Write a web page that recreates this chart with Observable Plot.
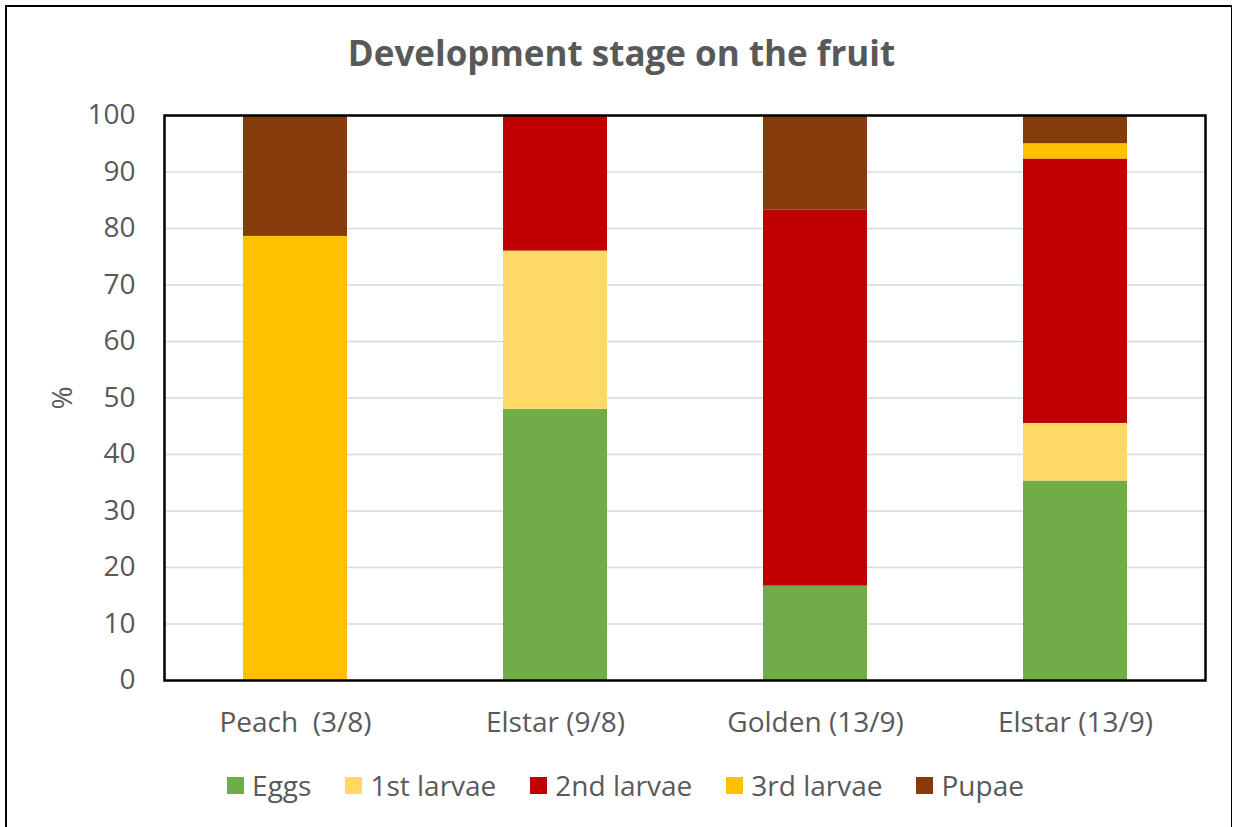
<!DOCTYPE html>
<html>
<head>
<meta charset="utf-8">
<script src="https://cdn.jsdelivr.net/npm/d3@7"></script>
<script src="https://cdn.jsdelivr.net/npm/@observablehq/plot@0.6"></script>
<style>
  html, body { margin: 0; padding: 0; background: #fff; }
  #chart { position: relative; width: 1235px; height: 827px; overflow: hidden; font-family: "Open Sans", Lato, sans-serif; color: #595959; }
  #border { position: absolute; left: 5px; top: 5px; width: 1227px; height: 900px; border-left: 2px solid #000; border-top: 2px solid #000; border-right: 1.5px solid #000; box-sizing: border-box; }
  #title { position: absolute; left: 0; top: 0; width: 1235px; height: 90px; line-height: 105px; text-align: center; font-size: 35px; font-weight: bold; color: #595959; padding-left: 8px; box-sizing: border-box; }
  #plot { position: absolute; left: 0; top: 90px; }
  #legend { position: absolute; left: 0; top: 766px; width: 1235px; height: 38px; display: flex; justify-content: center; align-items: center; gap: 34px; font-size: 28px; color: #595959; padding-left: 16px; box-sizing: border-box; }
  .item { display: flex; align-items: center; gap: 8px; }
  .sw { width: 17px; height: 17px; display: inline-block; }
</style>
</head>
<body>
<div id="chart">
  <div id="border"></div>
  <div id="title">Development stage on the fruit</div>
  <div id="plot"></div>
  <div id="legend"></div>
</div>
<script>
const categories = ["Peach  (3/8)", "Elstar (9/8)", "Golden (13/9)", "Elstar (13/9)"];
const stages = ["Eggs", "1st larvae", "2nd larvae", "3rd larvae", "Pupae"];
const colors = ["#70AD47", "#FFD966", "#C00000", "#FFC000", "#843C0C"];
const eggs = [0, 48, 16.7, 35.3];
const larvae1 = [0, 28, 0, 10.2];
const larvae2 = [0, 24, 66.6, 46.8];
const larvae3 = [78.6, 0, 0, 2.7];
const pupae = [21.4, 0, 16.7, 5.0];
const yTicks = [0, 10, 20, 30, 40, 50, 60, 70, 80, 90, 100];

const seriesValues = [eggs, larvae1, larvae2, larvae3, pupae];
const data = [];
stages.forEach((s, i) => categories.forEach((c, j) => data.push({category: c, stage: s, value: seriesValues[i][j]})));

const chart = Plot.plot({
  width: 1235,
  height: 670,
  marginTop: 25,
  marginBottom: 80,
  marginLeft: 164,
  marginRight: 30,
  style: {fontFamily: "'Open Sans', Lato, sans-serif", fontSize: "28px", color: "#595959", background: "transparent", overflow: "visible"},
  x: {domain: categories, paddingInner: 0.6, paddingOuter: 0.3, label: null},
  y: {domain: [0, 100], ticks: yTicks, label: "%"},
  color: {domain: stages, range: colors},
  marks: [
    Plot.gridY(yTicks, {stroke: "#d9d9d9", strokeOpacity: 1, strokeWidth: 1.5}),
    Plot.barY(data, {x: "category", y: "value", fill: "stage"}),
    Plot.frame({stroke: "#000", strokeWidth: 2.5}),
    Plot.axisY({ticks: yTicks, tickSize: 0, tickPadding: 29, label: "%", labelAnchor: "center", labelArrow: "none", labelOffset: 112, fill: "#595959"}),
    Plot.axisX({tickSize: 0, tickPadding: 32, label: null, fill: "#595959"})
  ]
});
document.getElementById("plot").appendChild(chart);

const legend = document.getElementById("legend");
stages.forEach((s, i) => {
  const it = document.createElement("div");
  it.className = "item";
  const sw = document.createElement("span");
  sw.className = "sw";
  sw.style.background = colors[i];
  const t = document.createElement("span");
  t.textContent = s;
  it.appendChild(sw); it.appendChild(t);
  legend.appendChild(it);
});
</script>
</body>
</html>
